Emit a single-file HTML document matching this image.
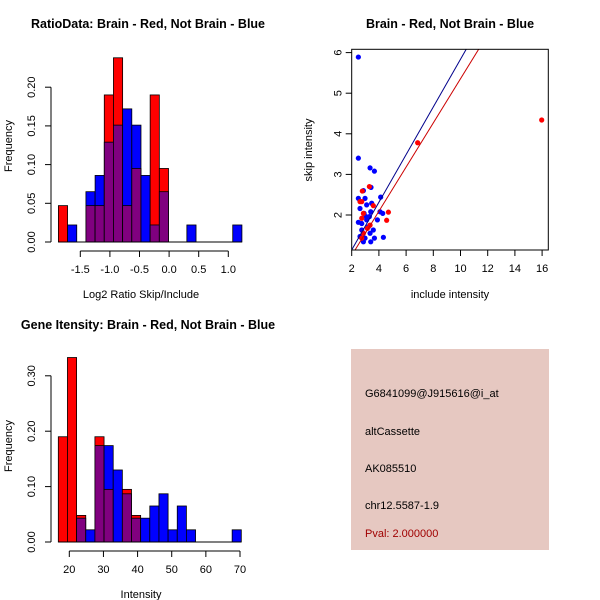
<!DOCTYPE html>
<html><head><meta charset="utf-8"><style>
body{margin:0;background:#fff}
svg{display:block;font-family:"Liberation Sans",sans-serif}
</style></head><body>
<svg id="c" width="600" height="600" xmlns="http://www.w3.org/2000/svg">
<rect width="600" height="600" fill="#fff"/>
<text x="148" y="28" font-size="12.5" font-weight="bold" text-anchor="middle">RatioData: Brain - Red, Not Brain - Blue</text>
<text x="450" y="28" font-size="12.5" font-weight="bold" text-anchor="middle">Brain - Red, Not Brain - Blue</text>
<text x="148" y="329" font-size="12.5" font-weight="bold" text-anchor="middle">Gene Itensity: Brain - Red, Not Brain - Blue</text>
<text x="141" y="298" font-size="11" text-anchor="middle">Log2 Ratio Skip/Include</text>
<text x="141" y="598" font-size="11" text-anchor="middle">Intensity</text>
<text transform="translate(12,146) rotate(-90)" font-size="11" text-anchor="middle">Frequency</text>
<text transform="translate(12,446) rotate(-90)" font-size="11" text-anchor="middle">Frequency</text>
<text x="450" y="298" font-size="11" text-anchor="middle">include intensity</text>
<text transform="translate(312,150) rotate(-90)" font-size="11" text-anchor="middle">skip intensity</text>
<g>
<rect x="351" y="349" width="198" height="201" fill="#e6c8c1"/>
<text x="365" y="397" font-size="11">G6841099@J915616@i_at</text>
<text x="365" y="435" font-size="11">altCassette</text>
<text x="365" y="472" font-size="11">AK085510</text>
<text x="365" y="509" font-size="11">chr12.5587-1.9</text>
<text x="365" y="537" font-size="11" fill="#a00000">Pval: 2.000000</text>
</g>
</svg>
<script>
// ---- Ratio histogram data ----
const ratioBinStart = -1.87;
const ratioBinWidth = 0.155;
const ratioRed  = [0.047,0,0,0.047,0.047,0.19,0.238,0.047,0.095,0,0.19,0.095,0,0,0,0,0,0,0,0];
const ratioBlue = [0,0.022,0,0.065,0.086,0.129,0.151,0.172,0.151,0.086,0.022,0.065,0,0,0.022,0,0,0,0,0.022];
const ratioXTicks = [-1.5,-1.0,-0.5,0.0,0.5,1.0];
const ratioXTickLabels = ["-1.5","-1.0","-0.5","0.0","0.5","1.0"];
const ratioYTicks = [0,0.05,0.10,0.15,0.20];
const ratioYTickLabels = ["0.00","0.05","0.10","0.15","0.20"];
// ---- Intensity histogram data ----
const intBinStart = 16.78;
const intBinWidth = 2.68;
const intRed  = [0.19,0.333,0.048,0,0.19,0.095,0,0.095,0.048,0,0,0,0,0,0,0,0,0,0,0];
const intBlue = [0,0,0.043,0.022,0.174,0.174,0.13,0.087,0.043,0.043,0.065,0.087,0.022,0.065,0.022,0,0,0,0,0.022];
const intXTicks = [20,30,40,50,60,70];
const intXTickLabels = ["20","30","40","50","60","70"];
const intYTicks = [0,0.1,0.2,0.3];
const intYTickLabels = ["0.00","0.10","0.20","0.30"];
// ---- Scatter data ----
const blueX = [2.49,2.49,3.35,3.67,3.42,2.86,2.49,2.98,4.13,3.47,3.10,4.08,4.28,2.61,2.91,3.40,2.49,2.74,3.10,3.89,3.59,3.35,2.61,2.98,3.40,4.33,3.67,2.86,3.23,2.74,3.05,3.30];
const blueY = [5.89,3.40,3.16,3.08,2.68,2.60,2.41,2.41,2.44,2.29,2.25,2.08,2.04,2.16,2.04,2.08,1.82,1.79,1.88,1.88,1.63,1.55,1.47,1.43,1.34,1.45,1.43,1.34,1.71,1.63,1.96,1.96];
const redX = [15.97,6.85,2.78,3.30,2.74,2.61,3.59,4.70,4.57,2.86,2.74,3.35,2.86,2.74,3.15];
const redY = [4.34,3.78,2.59,2.70,2.33,2.33,2.23,2.07,1.87,2.04,1.92,1.75,1.55,1.43,1.67];
const blueFit = [-0.034,0.587];
const redFit = [-0.084,0.544];
const scXTicks = [2,4,6,8,10,12,14,16];
const scYTicks = [2,3,4,5,6];

const svg=document.getElementById('c');
const NS='http://www.w3.org/2000/svg';
function mk(tag,attrs,parent){const e=document.createElementNS(NS,tag);for(const k in attrs)e.setAttribute(k,attrs[k]);(parent||svg).appendChild(e);return e;}

function hist(o){
  const sx=v=>o.px0+(v-o.d0)*o.kx, sy=v=>o.py0-v*o.ky;
  const g=mk('g',{});
  
  
  for(let i=0;i<o.red.length;i++){
    const a=o.bs+i*o.bw,b=a+o.bw,r=o.red[i],bl=o.blue[i];
    const hi=Math.max(r,bl),lo=Math.min(r,bl);
    if(hi>0){const e=mk('rect',{x:sx(a),y:sy(hi),width:sx(b)-sx(a),height:sy(0)-sy(hi),fill:r>=bl?'#ff0000':'#0000ff',stroke:'#000','stroke-width':0.8},g);
      
      }
    if(lo>0){const e=mk('rect',{x:sx(a),y:sy(lo),width:sx(b)-sx(a),height:sy(0)-sy(lo),fill:'#80007f',stroke:'#000','stroke-width':0.8},g);
      
      }
  }
  mk('line',{x1:sx(o.bs),x2:sx(o.bs+o.bw*o.red.length),y1:sy(0),y2:sy(0),stroke:'#000'},g);
  const ax=o.py0+9;
  mk('line',{x1:sx(o.xt[0]),x2:sx(o.xt[o.xt.length-1]),y1:ax,y2:ax,stroke:'#000'},g);
  o.xt.forEach((t,i)=>{mk('line',{x1:sx(t),x2:sx(t),y1:ax,y2:ax+6,stroke:'#000'},g);
    const tx=mk('text',{x:sx(t),y:ax+22,'font-size':11,'text-anchor':'middle'},g);tx.textContent=o.xl[i];
    
    });
  const yx=51;
  mk('line',{x1:yx,x2:yx,y1:sy(o.yt[0]),y2:sy(o.yt[o.yt.length-1]),stroke:'#000'},g);
  o.yt.forEach((t,i)=>{mk('line',{x1:yx-6,x2:yx,y1:sy(t),y2:sy(t),stroke:'#000'},g);
    const tx=mk('text',{transform:`translate(${yx-16},${sy(t)}) rotate(-90)`,'font-size':11,'text-anchor':'middle'},g);tx.textContent=o.yl[i];
    
    });
}
hist({name:'ratio-histogram',red:ratioRed,blue:ratioBlue,bs:ratioBinStart,bw:ratioBinWidth,px0:80.3,d0:-1.5,kx:59.2,py0:242,ky:774,xt:ratioXTicks,xl:ratioXTickLabels,yt:ratioYTicks,yl:ratioYTickLabels});
hist({name:'intensity-histogram',red:intRed,blue:intBlue,bs:intBinStart,bw:intBinWidth,px0:69.3,d0:20,kx:3.414,py0:542,ky:554,xt:intXTicks,xl:intXTickLabels,yt:intYTicks,yl:intYTickLabels});

const X0=351.7,X1=548.3,Y0=49.3,Y1=250;
const sx=v=>X0+(v-2)*13.6, sy=v=>215-(v-2)*40.6;
const sg=mk('g',{});


mk('clipPath',{id:'clip'},sg);
mk('rect',{x:X0,y:Y0,width:X1-X0,height:Y1-Y0},document.getElementById('clip'));
function fitLine(f,col,name){const xa=0,xb=20;
  const l=mk('line',{x1:sx(xa),y1:sy(f[0]+f[1]*xa),x2:sx(xb),y2:sy(f[0]+f[1]*xb),stroke:col,'stroke-width':1,'clip-path':'url(#clip)'},sg);
  
  }
blueX.forEach((x,i)=>{const p=mk('circle',{cx:sx(x),cy:sy(blueY[i]),r:2.6,fill:'#0000ff'},sg);
  
  });
redX.forEach((x,i)=>{const p=mk('circle',{cx:sx(x),cy:sy(redY[i]),r:2.6,fill:'#ff0000'},sg);
  
  });
fitLine(blueFit,'#00008b','fit-line-blue');
fitLine(redFit,'#cc0000','fit-line-red');
mk('rect',{x:X0,y:Y0,width:X1-X0,height:Y1-Y0,fill:'none',stroke:'#000'},sg);
scXTicks.forEach(t=>{mk('line',{x1:sx(t),x2:sx(t),y1:Y1,y2:Y1+6,stroke:'#000'},sg);
  const tx=mk('text',{x:sx(t),y:Y1+22,'font-size':11,'text-anchor':'middle'},sg);tx.textContent=t;
  
  });
scYTicks.forEach(t=>{mk('line',{x1:X0-6,x2:X0,y1:sy(t),y2:sy(t),stroke:'#000'},sg);
  const tx=mk('text',{transform:`translate(${X0-10},${sy(t)}) rotate(-90)`,'font-size':11,'text-anchor':'middle'},sg);tx.textContent=t;
  
  });
</script>
</body></html>
